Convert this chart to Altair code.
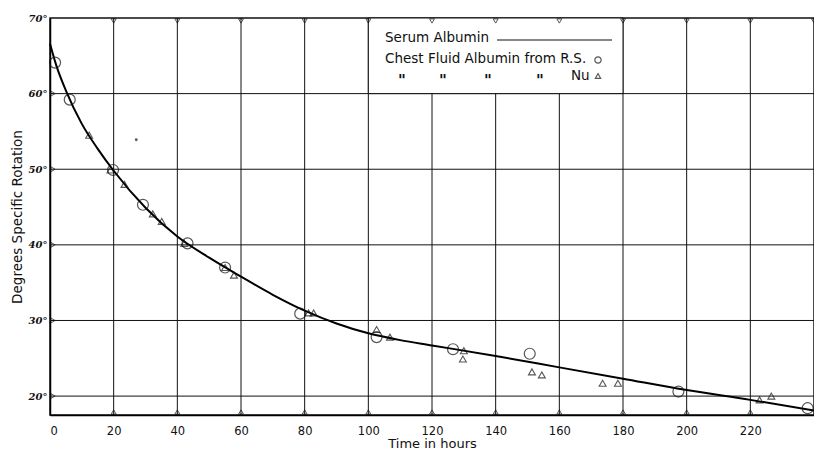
import altair as alt
import pandas as pd

# ---- data ----
x_ticks = [0, 20, 40, 60, 80, 100, 120, 140, 160, 180, 200, 220]
x_grid = [20, 40, 60, 80, 100, 120, 140, 160, 180, 200, 220]
y_ticks = [20, 30, 40, 50, 60, 70]
y_grid = [20, 30, 40, 50, 60]

# Serum Albumin curve
curve_t = [0, 2, 5, 10, 15, 20, 30, 40, 50, 60, 70, 80, 90, 100, 110, 120, 140, 160, 180, 200, 220, 240]
curve_v = [66.6, 63.7, 60.4, 56.0, 52.7, 49.8, 44.9, 41.1, 38.3, 35.8, 33.4, 31.3, 29.6, 28.3, 27.4, 26.7, 25.3, 23.8, 22.3, 20.8, 19.5, 18.1]

# Chest Fluid Albumin from R.S. (circles)
rs_t = [1.6, 6.2, 19.8, 29.2, 43.2, 55.0, 78.6, 102.6, 126.6, 150.7, 197.4, 238.0]
rs_v = [64.1, 59.2, 49.9, 45.3, 40.2, 37.0, 30.9, 27.8, 26.2, 25.6, 20.6, 18.4]

# Chest Fluid Albumin from Nu (triangles)
nu_t = [12.3, 19.0, 23.4, 32.3, 35.1, 42.2, 55.0, 57.8, 81.2, 82.8, 102.6, 106.8, 130.0, 129.7, 151.4, 154.5, 173.6, 178.4, 222.9, 226.6]
nu_v = [54.5, 49.9, 48.0, 44.1, 43.1, 40.2, 37.0, 36.0, 31.0, 31.0, 28.8, 27.8, 26.0, 24.9, 23.2, 22.8, 21.7, 21.7, 19.5, 20.0]

# stray ink dot
dot_t = [27.1]
dot_v = [53.9]

legend_row1 = "Serum Albumin"
legend_row2 = "Chest Fluid Albumin from R.S."
legend_ditto = ['"', '"', '"', '"']
legend_nu = "Nu"
legend_box_t = [100, 180]
legend_box_v = [60, 70]

x_title = "Time in hours"
y_title = "Degrees Specific Rotation"

# ---- chart ----
FONT = "DejaVu Sans"
INK = "#111111"
xs = alt.Scale(domain=[0, 240], nice=False, zero=False)
ys = alt.Scale(domain=[17.5, 70], nice=False, zero=False)

curve_df = pd.DataFrame({"t": curve_t, "v": curve_v})
rs_df = pd.DataFrame({"t": rs_t, "v": rs_v})
nu_df = pd.DataFrame({"t": nu_t, "v": nu_v})
dot_df = pd.DataFrame({"t": dot_t, "v": dot_v})
box_df = pd.DataFrame({"t": [legend_box_t[0]], "t2": [legend_box_t[1]],
                       "v": [legend_box_v[0]], "v2": [legend_box_v[1]]})

x_axis = alt.Axis(values=x_ticks, title=x_title, grid=False, ticks=False,
                  labelFont=FONT, labelFontSize=11.5, labelColor=INK,
                  labelPadding=10, titleFont=FONT, titleFontSize=13,
                  titleFontWeight="normal", titleColor=INK, titlePadding=1,
                  domainColor="#000", domainWidth=1.5)
y_axis = alt.Axis(values=y_ticks, title=y_title, grid=False, ticks=False,
                  labelExpr="datum.value + '°'",
                  labelFont="DejaVu Serif", labelFontSize=10, labelFontWeight="bold",
                  labelFontStyle="italic", labelColor=INK, labelPadding=3,
                  titleFont=FONT, titleFontSize=13.5, titleFontWeight="normal",
                  titleColor=INK, titlePadding=4,
                  domainColor="#000", domainWidth=1.5)

X = alt.X("t:Q", scale=xs, axis=x_axis)
Y = alt.Y("v:Q", scale=ys, axis=y_axis)

vgrid = alt.Chart(pd.DataFrame({"t": x_grid})).mark_rule(color=INK, strokeWidth=1).encode(x=X)
hgrid = alt.Chart(pd.DataFrame({"v": y_grid})).mark_rule(color=INK, strokeWidth=1).encode(y=Y)

box = alt.Chart(box_df).mark_rect(fill="white", stroke=INK, strokeWidth=1).encode(
    x=X, x2="t2", y=Y, y2="v2")

top_marks = alt.Chart(pd.DataFrame({"t": x_grid + [240], "v": [70] * (len(x_grid) + 1)})).mark_point(
    shape="triangle-down", size=24, color=INK, strokeWidth=1, filled=False, yOffset=3).encode(x=X, y=Y)
bot_marks = alt.Chart(pd.DataFrame({"t": x_grid, "v": [17.5] * len(x_grid)})).mark_point(
    shape="triangle-up", size=24, color=INK, strokeWidth=1, filled=False, yOffset=-3).encode(x=X, y=Y)
left_marks = alt.Chart(pd.DataFrame({"t": [0] * len(y_grid), "v": y_grid})).mark_point(
    shape="triangle-right", size=24, color=INK, strokeWidth=1, filled=False, xOffset=3).encode(x=X, y=Y)

curve = alt.Chart(curve_df).mark_line(color="#000", strokeWidth=2, interpolate="monotone").encode(x=X, y=Y)
rs = alt.Chart(rs_df).mark_point(shape="circle", size=120, color=INK, strokeWidth=1.2,
                                  filled=False).encode(x=X, y=Y)
nu = alt.Chart(nu_df).mark_point(shape="triangle-up", size=48, color=INK, strokeWidth=1.1,
                                  filled=False).encode(x=X, y=Y)
dot = alt.Chart(dot_df).mark_point(shape="circle", size=8, color=INK, filled=True).encode(x=X, y=Y)

one = pd.DataFrame({"a": [0]})
lg_text_style = dict(font=FONT, fontSize=13.5, color=INK, fill=INK, align="left", baseline="alphabetic")
lg1 = alt.Chart(pd.DataFrame({"s": [legend_row1]})).mark_text(**lg_text_style).encode(
    x=alt.value(335), y=alt.value(24), text="s:N")
lg1_line = alt.Chart(one).mark_rule(color=INK, strokeWidth=1.2).encode(
    x=alt.value(447), x2=alt.value(562), y=alt.value(22))
lg2 = alt.Chart(pd.DataFrame({"s": [legend_row2]})).mark_text(**lg_text_style).encode(
    x=alt.value(335), y=alt.value(45), text="s:N")
lg2_sym = alt.Chart(one).mark_point(shape="circle", size=40, color=INK, strokeWidth=1.2,
                                     filled=False).encode(x=alt.value(548), y=alt.value(42))
ditto_x = [352, 393, 438, 490]
ditto_layers = [
    alt.Chart(pd.DataFrame({"s": [legend_ditto[i]], "k": [i]})).mark_text(
        font=FONT, fontSize=15, fontStyle="italic", fontWeight="bold", color=INK, fill=INK,
        align="center", baseline="alphabetic").encode(
        x=alt.value(ditto_x[i]), y=alt.value(68), text="s:N")
    for i in range(len(legend_ditto))
]
lg3 = alt.Chart(pd.DataFrame({"s": [legend_nu]})).mark_text(**lg_text_style).encode(
    x=alt.value(521), y=alt.value(62), text="s:N")
lg3_sym = alt.Chart(one).mark_point(shape="triangle-up", size=30, color=INK, strokeWidth=1.1,
                                     filled=False).encode(x=alt.value(548), y=alt.value(58))

chart = alt.layer(
    vgrid, hgrid, box, top_marks, bot_marks, left_marks,
    curve, rs, nu, dot,
    lg1, lg1_line, lg2, lg2_sym, *ditto_layers, lg3, lg3_sym,
).properties(
    width=764, height=397, autosize=alt.AutoSizeParams(type="none"),
    padding={"left": 42, "top": 10, "right": 0, "bottom": 37},
    background="white",
).configure_view(stroke=INK, strokeWidth=1.5)

chart.save("out.html", embed_options={"renderer": "svg", "actions": False})
